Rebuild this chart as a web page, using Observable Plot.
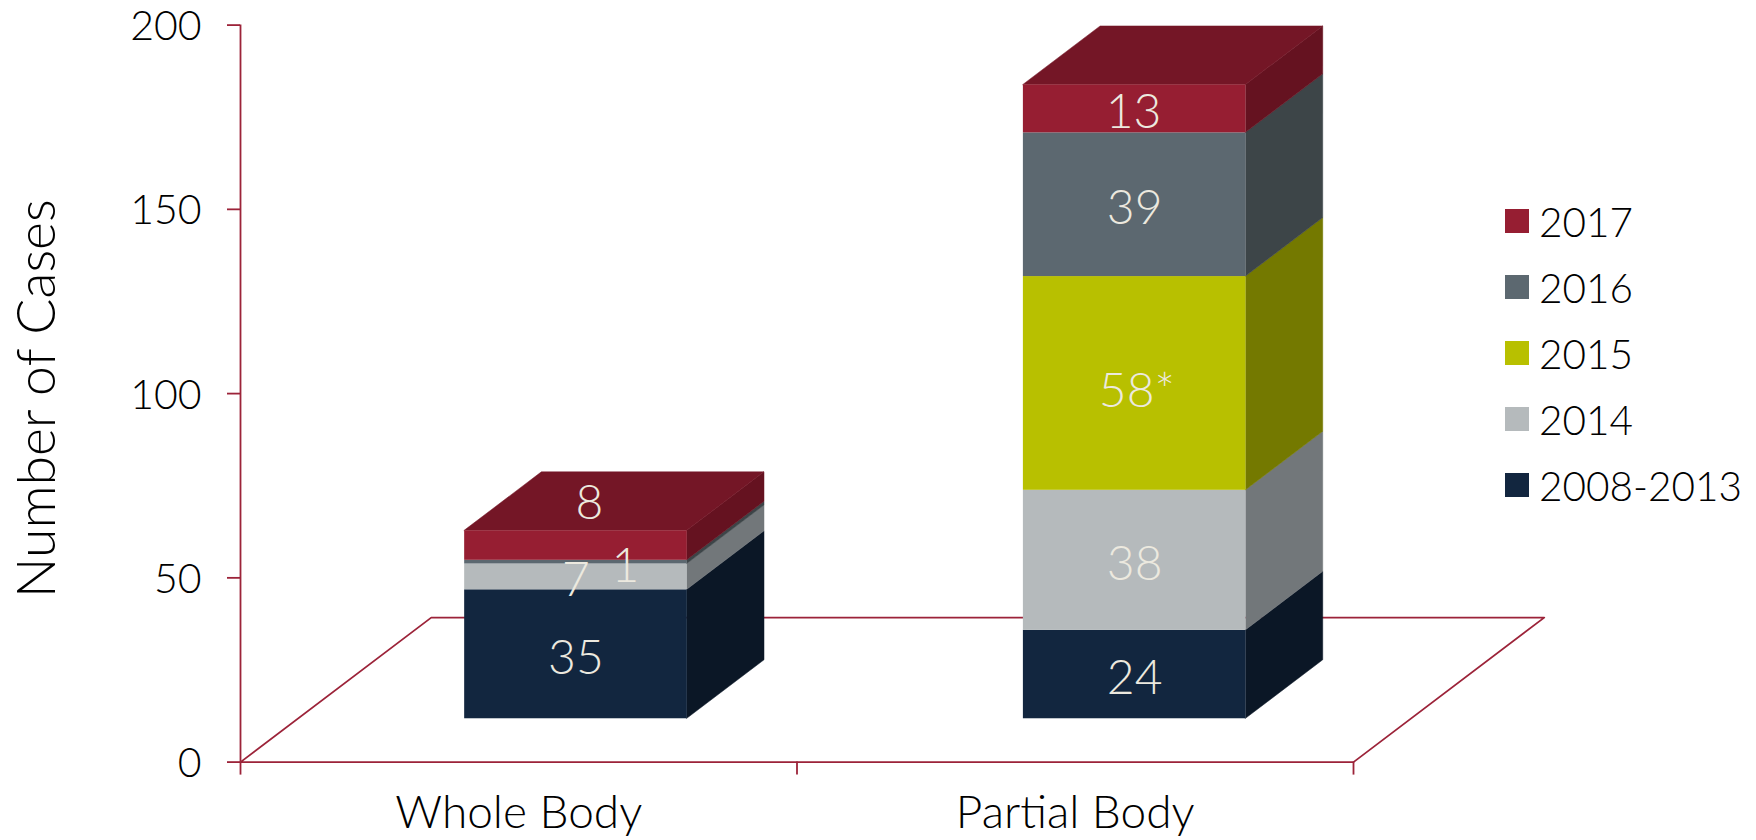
<!DOCTYPE html>
<html>
<head>
<meta charset="utf-8">
<script src="https://cdn.jsdelivr.net/npm/d3@7"></script>
<script src="https://cdn.jsdelivr.net/npm/@observablehq/plot@0.6"></script>
<style>
  html, body { margin: 0; padding: 0; background: #fff; }
  #wrap { position: relative; width: 1756px; height: 840px; overflow: hidden; font-family: Lato, sans-serif; font-weight: 300; }
  #legend { position: absolute; left: 1505px; top: 188px; color: #000; font-size: 40.5px; }
  #legend .row { display: flex; align-items: center; height: 66.1px; white-space: nowrap; }
  #legend .sw { width: 24px; height: 24px; margin-right: 10px; flex: none; }
</style>
</head>
<body>
<div id="wrap"></div>
<script>
// ---- data ----
const categories = ["Whole Body", "Partial Body"];
const seriesNames = ["2008-2013", "2014", "2015", "2016", "2017"];
const wholeBody = [35, 7, 0, 1, 8];
const partialBody = [24, 38, 58, 39, 13];
const yTicks = [0, 50, 100, 150, 200];

// ---- styles ----
const frontColors = ["#12263f", "#b5babc", "#b8c000", "#5c6870", "#961e32"];
const sideColors = ["#0b1726", "#72777a", "#747900", "#3d4548", "#651220"];
const topColor = "#741626";
const axisColor = "#9c2339";
const labelColor = "#ece9df";

// ---- oblique projection, in scale units ----
const floorDx = 0.3427, floorDy = 39.2;       // full floor depth
const depthFront = 0.3, depthBack = 0.705;    // where bars stand on the floor
const barHalf = 0.2;
const barCenters = [0.5, 1.504];
const px = (c, depth) => c + floorDx * depth;
const py = (v, depth) => v + floorDy * depth;

// ---- build stacked layers ----
const layers = [];
[wholeBody, partialBody].forEach((vals, ci) => {
  let acc = 0;
  vals.forEach((v, si) => {
    layers.push({cat: ci, center: barCenters[ci], series: si, value: v, y0: acc, y1: acc + v});
    acc += v;
  });
});
const tops = [wholeBody, partialBody].map((vals, ci) => ({center: barCenters[ci], total: d3.sum(vals)}));

// side faces: two points (front edge, back edge) per layer
const sideMarks = layers.filter(d => d.value > 0).map(d => {
  const xr = d.center + barHalf;
  const pts = [depthFront, depthBack].map(depth => ({
    x: px(xr, depth), y1: py(d.y0, depth), y2: py(d.y1, depth)
  }));
  const col = sideColors[d.series];
  return Plot.areaY(pts, {x: "x", y1: "y1", y2: "y2", fill: col, stroke: col, strokeWidth: 0.5});
});

// top faces
const topMarks = tops.map(d => {
  const pts = [depthFront, depthBack].map(depth => ({
    y: py(d.total, depth),
    x1: px(d.center - barHalf, depth),
    x2: px(d.center + barHalf, depth)
  }));
  return Plot.areaX(pts, {y: "y", x1: "x1", x2: "x2", fill: topColor, stroke: topColor, strokeWidth: 0.5});
});

// front faces
const frontMark = Plot.rect(layers.filter(d => d.value > 0), {
  x1: d => px(d.center - barHalf, depthFront),
  x2: d => px(d.center + barHalf, depthFront),
  y1: d => py(d.y0, depthFront),
  y2: d => py(d.y1, depthFront),
  fill: d => frontColors[d.series]
});

// value labels; a few are shifted as in the original
const labelShift = {"0-4": [0.024, 12.5], "0-3": [0.089, 0], "1-2": [0.004, -1.2], "1-4": [-0.002, 0]};
const labelSuffix = {"1-2": "*"};
const valueLabels = Plot.text(layers.filter(d => d.value > 0), {
  x: d => px(d.center, depthFront) + (labelShift[d.cat + "-" + d.series] || [0, 0])[0],
  y: d => py((d.y0 + d.y1) / 2, depthFront) + (labelShift[d.cat + "-" + d.series] || [0, 0])[1],
  text: d => d.value + (labelSuffix[d.cat + "-" + d.series] || ""),
  fill: labelColor,
  fontSize: 48,
  fontWeight: 300,
  dy: 4
});

const floor = [
  {x: px(0, 0), y: py(0, 0)},
  {x: px(2, 0), y: py(0, 0)},
  {x: px(2, 1), y: py(0, 1)},
  {x: px(0, 1), y: py(0, 1)},
  {x: px(0, 0), y: py(0, 0)}
];

const chart = Plot.plot({
  width: 1756,
  height: 840,
  marginLeft: 240,
  marginRight: 403,
  marginTop: 24.6,
  marginBottom: 78.4,
  style: {fontFamily: "Lato, sans-serif", fontWeight: 300, background: "#fff", overflow: "visible"},
  x: {domain: [0, 2]},
  y: {domain: [0, 200]},
  marks: [
    Plot.line(floor, {x: "x", y: "y", stroke: axisColor, strokeWidth: 1.8}),
    Plot.ruleX([0], {y1: 0, y2: 200, stroke: axisColor, strokeWidth: 1.8}),
    Plot.axisY({
      ticks: yTicks, tickSize: 13, stroke: axisColor, strokeWidth: 1.8, tickFormat: () => "", label: null
    }),
    Plot.axisY({
      ticks: yTicks, tickSize: 0, tickPadding: 39, fill: "#000", fontSize: 41, fontWeight: 300, dy: 2, label: null
    }),
    Plot.text(["Number of Cases"], {
      x: 0, y: 100, dx: -203, dy: 5, rotate: -90, fill: "#000", fontSize: 53.5, fontWeight: 300
    }),
    Plot.axisX({ticks: [0, 1, 2], tickSize: 13, stroke: axisColor, strokeWidth: 1.8, tickFormat: () => "", label: null}),
    Plot.axisX({
      ticks: [0.5, 1.5], tickSize: 0, tickPadding: 33, fill: "#000", fontSize: 46, fontWeight: 300,
      tickFormat: d => categories[Math.floor(d)], label: null
    }),
    ...sideMarks,
    ...topMarks,
    frontMark,
    valueLabels
  ]
});

const wrap = document.getElementById("wrap");
wrap.appendChild(chart);

// legend (top to bottom: newest first)
const legend = document.createElement("div");
legend.id = "legend";
seriesNames.map((name, i) => ({name, color: frontColors[i]})).reverse().forEach(({name, color}) => {
  const row = document.createElement("div");
  row.className = "row";
  const sw = document.createElement("span");
  sw.className = "sw";
  sw.style.background = color;
  const lab = document.createElement("span");
  lab.textContent = name;
  row.append(sw, lab);
  legend.appendChild(row);
});
wrap.appendChild(legend);
</script>
</body>
</html>
